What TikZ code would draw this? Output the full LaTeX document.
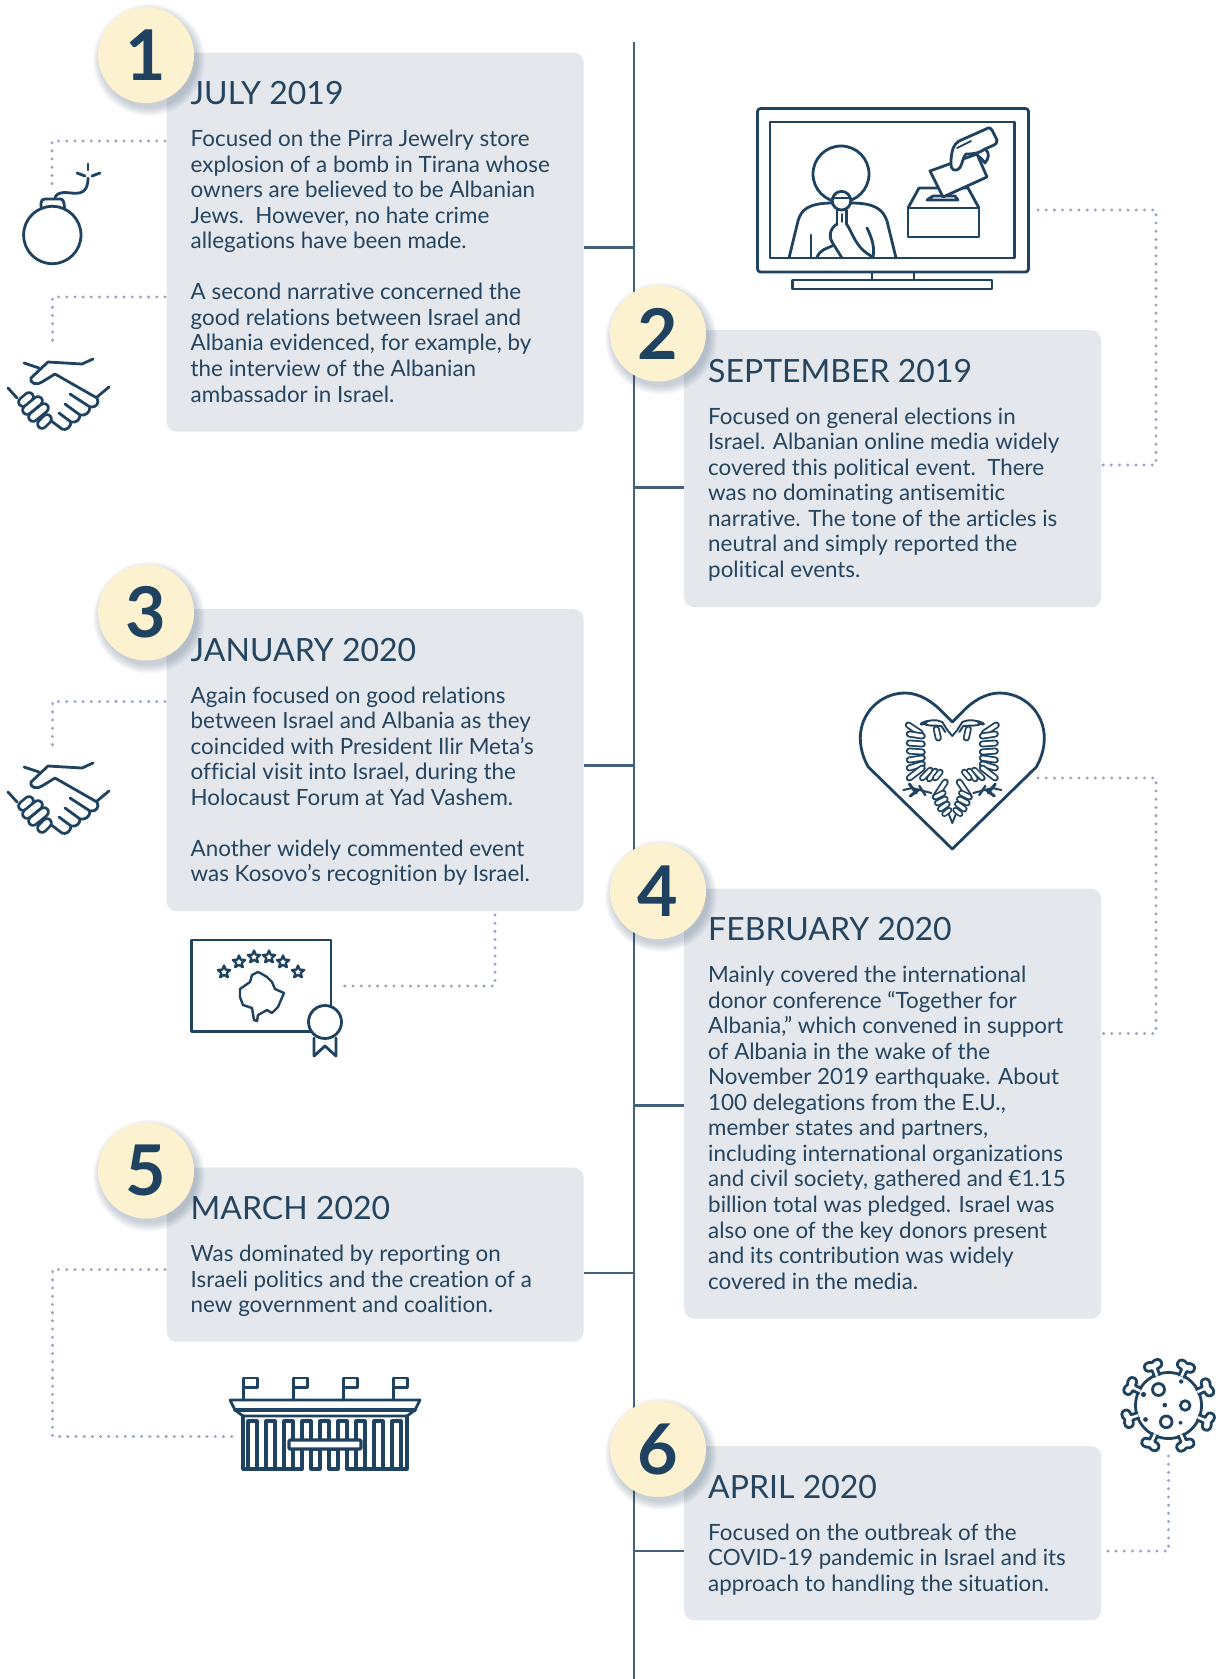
\documentclass[tikz,border=0pt]{standalone}
\usepackage{fontspec}
\setmainfont{Lato}[Ligatures=NoCommon]
\usetikzlibrary{calc}
\definecolor{ink}{HTML}{1F4260}
\definecolor{txt}{HTML}{24445F}
\definecolor{cardbg}{HTML}{E4E7EC}
\definecolor{badge}{HTML}{FDF2D0}
\definecolor{axis}{HTML}{45607A}
\definecolor{dots}{HTML}{98A6C4}
\tikzset{
  cardbox/.style={fill=cardbg,rounded corners=10pt,inner sep=0pt,anchor=north west},
  cardtitle/.style={anchor=base west,inner sep=0pt,text=txt,font=\fontsize{32}{32}\selectfont},
  cardbody/.style={anchor=north west,inner sep=0pt,text=txt,align=left,font=\fontsize{22.4}{25.55}\selectfont},
  badgenode/.style={circle,fill=badge,minimum size=96pt,inner sep=0pt,text=ink,font=\fontsize{70}{70}\selectfont\bfseries},
  axisline/.style={draw=axis,line width=2.5pt},
  dotline/.style={draw=dots,line width=3.3pt,line cap=round,dash pattern=on 0pt off 8.19pt},
  icon/.style={draw=ink,line width=2.8pt,line cap=round,line join=round},
  bld/.style={draw=ink,line width=3.2pt,line cap=round,line join=round},
  pics/kstar/.style={code={\draw[icon,line width=2.3pt] (-90:6.5)--(-54:2.9)--(-18:6.5)--(18:2.9)--(54:6.5)--(90:2.9)--(126:6.5)--(162:2.9)--(198:6.5)--(234:2.9)--cycle;}},
  pics/spike/.style={code={\draw[icon,fill=white] (-2.8,-32) -- (-2.8,-38.5) .. controls (-6,-38.5) and (-9,-39.5) .. (-9,-43) .. controls (-9,-47.5) and (-4,-48.5) .. (0,-46) .. controls (4,-48.5) and (9,-47.5) .. (9,-43) .. controls (9,-39.5) and (6,-38.5) .. (2.8,-38.5) -- (2.8,-32);}},
  pics/handshake/.style={code={
    \draw[icon] (24,363)--(39,368);
    \draw[icon] (93,359) -- (82,364) -- (48,362) -- (31,378) .. controls (29,383) and (37,386) .. (42,382) -- (55,374) -- (97,398) .. controls (100,403) and (96,408) .. (90,407) -- (70,394);
    \draw[icon] (97,397)--(109,387);
    \draw[icon] (90,407) .. controls (90,413) and (85,416) .. (80,415) -- (65,404);
    \draw[icon] (80,415) .. controls (80,420) and (76,423) .. (71,422) -- (59,413);
    \draw[icon] (71,422) .. controls (71,427) and (66,431) .. (62,429) -- (50,420);
    \draw[icon] (8,388)--(17,398);
    \mypill{11.5}{6}{(23,402)}{(29,397)}
    \mypill{11.5}{6}{(27,410)}{(38,401)}
    \mypill{11.5}{6}{(33,417)}{(44,408)}
    \mypill{11.5}{6}{(42,424)}{(47,419)}
  }},
}
\newcommand{\mypill}[4]{\draw[ink,line cap=round,line width=#1pt] #3--#4; \draw[white,line cap=round,line width=#2pt] #3--#4;}
\newcommand{\mycard}[7]{% name,x,top,w,h,title,body
  \node[cardbox,minimum width=#4pt,minimum height=#5pt] (#1) at (#2,#3) {};
  \node[cardtitle] (#1t) at ($(#2,#3)+(24,52)$) {#6};
  \node[cardbody] (#1b) at ($(#2,#3)+(24,77.3)$) {\rule{0pt}{16pt}#7};
}
\newcommand{\mybadge}[4]{% name,x,y,digit
  \foreach \r in {56,55,...,48}{
    \fill[ink,opacity=.028] ($(#2,#3)+(3,5)$) circle (\r pt);
  }
  \node[badgenode] (#1) at (#2,#3) {#4};
}
\newcommand{\halfeagle}{%
  \mypill{7}{3.4}{(44,725)}{(32,733)}
  \mypill{7}{3.4}{(43,734)}{(30,736)}
  \mypill{7}{3.4}{(43,743)}{(30,744)}
  \mypill{7}{3.4}{(43,751)}{(30,752)}
  \mypill{7}{3.4}{(43,760)}{(30,758)}
  \mypill{7}{3.4}{(43,768)}{(30,764)}
  \mypill{7}{3.4}{(43,778)}{(30,768)}
  \mypill{6.6}{3.2}{(30,778)}{(22,770)}
  \mypill{6.6}{3.2}{(23,779)}{(17,771)}
  \mypill{6.6}{3.2}{(17,778)}{(12,772)}
  \draw[icon,line width=1.9pt] (0,736) -- (5,730) -- (10,722) .. controls (16,719) and (24,720) .. (30,723) .. controls (25,727) and (17,725) .. (11,726) -- (7,732);
  \draw[ink,line width=3.4pt,line cap=round] (26,722) -- (31,724);
  \mypill{7}{3.4}{(16,729)}{(14,738)}
  \mypill{7}{3.4}{(7,782)}{(17,797)}
  \draw[icon,line width=1.9pt] (4,813) -- (0,823);
  \mypill{6.6}{3.2}{(17,797)}{(9,793)}
  \mypill{6.6}{3.2}{(15,803)}{(7,799)}
  \mypill{6.6}{3.2}{(12,809)}{(5,804)}
  \mypill{6}{2.8}{(8,814)}{(3,810)}
  \draw[ink,line width=2pt,line cap=round] (49,790) -- (40,788) -- (21,793);
  \draw[ink,line width=3pt,line cap=round] (43,784) -- (36,793);
  \draw[ink,line width=3pt,line cap=round] (42,796) -- (34,790);
  \draw[ink,line width=2.4pt,line cap=round] (33,786) -- (27,795);
}
\begin{document}
\begin{tikzpicture}[x=1pt,y=-1pt]
\useasboundingbox (0,0) rectangle (1219,1679);
\fill[white] (0,0) rectangle (1219,1679);

% ---- cards
\mycard{card1}{166.5}{52.5}{417}{379}{JULY 2019}{Focused on the Pirra Jewelry store\\explosion of a bomb in Tirana whose\\owners are believed to be Albanian\\Jews.\ \ However, no hate crime\\allegations have been made.\\[25.55pt]A second narrative concerned the\\good relations between Israel and\\Albania evidenced, for example, by\\the interview of the Albanian\\ambassador in Israel.}
\mycard{card2}{684}{330}{417}{277}{SEPTEMBER 2019}{Focused on general elections in\\Israel. Albanian online media widely\\covered this political event.\ \ There\\was no dominating antisemitic\\narrative. The tone of the articles is\\neutral and simply reported the\\political events.}
\mycard{card3}{166.5}{609}{417}{302}{JANUARY 2020}{Again focused on good relations\\between Israel and Albania as they\\coincided with President Ilir Meta’s\\official visit into Israel, during the\\Holocaust Forum at Yad Vashem.\\[25.55pt]Another widely commented event\\was Kosovo’s recognition by Israel.}
\mycard{card4}{684}{888.5}{417}{430}{FEBRUARY 2020}{Mainly covered the international\\donor conference “Together for\\Albania,” which convened in support\\of Albania in the wake of the\\November 2019 earthquake. About\\100 delegations from the E.U.,\\member states and partners,\\including international organizations\\and civil society, gathered and €1.15\\billion total was pledged. Israel was\\also one of the key donors present\\and its contribution was widely\\covered in the media.}
\mycard{card5}{166.5}{1167.5}{417}{174}{MARCH 2020}{Was dominated by reporting on\\Israeli politics and the creation of a\\new government and coalition.}
\mycard{card6}{684}{1446}{417}{174}{APRIL 2020}{Focused on the outbreak of the\\COVID-19 pandemic in Israel and its\\approach to handling the situation.}

% ---- timeline
\coordinate (axTop) at (633.8,42);
\coordinate (axBot) at (633.8,1679);
\draw[axisline] (axTop) -- (axBot);
\coordinate (a1) at (633.8,247.5);
\coordinate (a2) at (633.8,487.5);
\coordinate (a3) at (633.8,765.5);
\coordinate (a4) at (633.8,1105.5);
\coordinate (a5) at (633.8,1273);
\coordinate (a6) at (633.8,1551);
\draw[axisline] (a1) -- (a1 -| card1.east);
\draw[axisline] (a2) -- (a2 -| card2.west);
\draw[axisline] (a3) -- (a3 -| card3.east);
\draw[axisline] (a4) -- (a4 -| card4.west);
\draw[axisline] (a5) -- (a5 -| card5.east);
\draw[axisline] (a6) -- (a6 -| card6.west);

% ---- badges
\mybadge{n1}{146}{55}{1}
\mybadge{n2}{658}{333.5}{2}
\mybadge{n3}{146}{612.5}{3}
\mybadge{n4}{658}{891}{4}
\mybadge{n5}{146}{1170.5}{5}
\mybadge{n6}{658}{1449}{6}

% ---- dotted connectors
\coordinate (b1) at (165,141); \coordinate (b2) at (52,141); \coordinate (b3) at (52,184);
\draw[dotline] (b1)--(b2)--(b3);
\coordinate (h1) at (165,297); \coordinate (h2) at (52.5,297); \coordinate (h3) at (52.5,348);
\draw[dotline] (h1)--(h2)--(h3);
\coordinate (tv1) at (1038,210); \coordinate (tv2) at (1156,210); \coordinate (tv3) at (1156,465); \coordinate (tv4) at (1103,465);
\draw[dotline] (tv1)--(tv2)--(tv3)--(tv4);
\coordinate (ht1) at (1038,778); \coordinate (ht2) at (1156,778); \coordinate (ht3) at (1156,1033.5); \coordinate (ht4) at (1103,1033.5);
\draw[dotline] (ht1)--(ht2)--(ht3)--(ht4);
\coordinate (s1) at (165,701.5); \coordinate (s2) at (52.5,701.5); \coordinate (s3) at (52.5,752);
\draw[dotline] (s1)--(s2)--(s3);
\coordinate (k1) at (495,915); \coordinate (k2) at (495,986); \coordinate (k3) at (342,986);
\draw[dotline] (k1)--(k2)--(k3);
\coordinate (g1) at (165,1269.5); \coordinate (g2) at (52.5,1269.5); \coordinate (g3) at (52.5,1436.5); \coordinate (g4) at (233,1436.5);
\draw[dotline] (g1)--(g2)--(g3)--(g4);
\coordinate (v1) at (1168.5,1456); \coordinate (v2) at (1168.5,1551); \coordinate (v3) at (1105,1551);
\draw[dotline] (v1)--(v2)--(v3);

% ---- bomb
\draw[icon] (52.3,235) circle (28.7pt);
\draw[icon] (41,207) -- (41,203) .. controls (41,200) and (43,199) .. (45,199) -- (60,199) .. controls (63,199) and (64,201) .. (64.5,208);
\draw[icon] (55,197) .. controls (58,192) and (64,192) .. (71,193) .. controls (80,194) and (88,193) .. (88,178);
\draw[icon] (88,164)--(88,170);
\draw[icon] (77,173)--(85,176);
\draw[icon] (100,173)--(92,176);

% ---- handshakes
\pic at (0,0) {handshake};
\pic at (0,404) {handshake};

% ---- TV
\draw[icon,rounded corners=3pt] (757.5,108.5) rectangle (1028.5,272);
\draw[icon] (770,122) rectangle (1014.5,258);
\draw[icon] (872,272) rectangle (914,280);
\draw[icon] (792.5,280) rectangle (992,289);
\draw[icon] (841,174) circle (28pt);
\draw[icon] (789,258) -- (798,221) .. controls (801,210) and (808,203) .. (833,203);
\draw[icon] (851,203) .. controls (876,203) and (883,210) .. (887,221) -- (896,258);
\draw[icon,fill=white] (841.5,200.7) circle (9.3pt);
\draw[icon] (833,198) -- (850,198);
\draw[icon] (837,210) -- (837,224);
\draw[icon] (846.5,210) -- (846.5,224);
\draw[icon,line width=1.8pt] (841.7,214) -- (841.7,222);
\draw[icon] (837,224) .. controls (829,229) and (829,238) .. (832,242) -- (842,258);
\draw[icon] (846.5,224) .. controls (853,233) and (855,248) .. (873,257);
\draw[icon] (867,228) .. controls (872,238) and (875,248) .. (873,257);
\draw[icon] (811,235) -- (811,258);
\draw[icon] (817,257) .. controls (821,249) and (826,249) .. (832,246);
\draw[icon] (908,208) rectangle (979,237);
\draw[icon] (908,208) -- (919,188) -- (968,188) -- (979,208);
\draw[icon] (927,200) -- (933,196) -- (955,196) -- (958,200) -- cycle;
\draw[icon,fill=white] (930,171) -- (977,154) -- (987,177) -- (943,197) -- cycle;
\draw[icon,fill=white] (951,160) .. controls (952,150) and (953,145) .. (959,141) -- (986,129) .. controls (989,127) and (991,128) .. (992,130) -- (997,140) .. controls (997,143) and (996,144) .. (994,145) -- (985,149) .. controls (979,153) and (975,154) .. (966,154) .. controls (962,158) and (962,169) .. (957,170) .. controls (950,171) and (951,165) .. (951,160);
\draw[icon] (978,156) .. controls (981,158) and (983,160) .. (985,163) .. controls (989,158) and (990,153) .. (985,149);
\draw[icon,line width=1.8pt] (957,148) -- (971,141);

% ---- heart
\begin{scope}[shift={(-1.7,0)}]
\draw[icon] (954,722) -- (945,713) .. controls (935,702) and (921,693) .. (907,693) .. controls (882,693) and (862,713) .. (862,738) .. controls (862,750) and (866,760) .. (870,767) -- (954,849) -- (1038,767) .. controls (1042,760) and (1046,750) .. (1046,738) .. controls (1046,713) and (1026,693) .. (1001,693) .. controls (987,693) and (973,702) .. (963,713) -- cycle;
\end{scope}
\begin{scope}[shift={(952.3,0)}]
  \halfeagle
\end{scope}
\begin{scope}[shift={(952.3,0)},xscale=-1]
  \halfeagle
\end{scope}

% ---- certificate
\draw[icon] (191.5,940) rectangle (331,1031.5);
\foreach \p in {(224,972),(239,962),(254,957),(269,957),(283,962),(298,972)}{\pic at \p {kstar};}
\draw[icon,line width=2.4pt] (258,972)--(252,975)--(250,982)--(240,989)--(240,997)--(243,1005)--(252,1008)--(254,1020)--(257,1021)--(258,1015)--(267,1010)--(272,1013)--(278,1007)--(284,993)--(275,989)--(272,982)--(267,977)--(262,974)--cycle;
\draw[icon,fill=white] (325,1022) circle (16.5pt);
\draw[icon] (314,1038)--(314,1056)--(325,1046)--(336,1056)--(336,1038);

% ---- building
\foreach \fx in {243.3,293.3,343.3,393.3}{
  \draw[icon] (\fx,1400) -- (\fx,1378) -- (\fx+14.5,1378) -- (\fx+14.5,1387.5) -- (\fx,1387.5);
}
\draw[icon] (230,1400) -- (420,1400) -- (415,1410) -- (235,1410) -- cycle;
\draw[bld] (235,1410) -- (415,1410);
\draw[icon] (235,1410) -- (243,1416) -- (407,1416) -- (415,1410);
\draw[bld] (243,1416) -- (243,1469) -- (302,1469);
\draw[bld] (407,1416) -- (407,1469) -- (347,1469);
\foreach \cx in {248,266,284,356,374,392}{
  \draw[bld] (\cx,1469) -- (\cx,1421) -- (\cx+9,1421) -- (\cx+9,1469);
}
\foreach \cx in {302,320,338}{
  \draw[bld] (\cx,1440) -- (\cx,1421) -- (\cx+9,1421) -- (\cx+9,1440);
}
\draw[bld] (302,1449) -- (302,1469);
\draw[bld] (347,1449) -- (347,1469);
\draw[bld] (311,1449) rectangle (320,1469);
\draw[bld] (329,1449) rectangle (338,1469);
\draw[bld,fill=white,rounded corners=1pt] (289,1440) rectangle (361,1449);

% ---- virus
\draw[icon] (1168.5,1405.5) circle (33pt);
\foreach \ang in {-21,24,65,112,157,205,252,297}{
  \pic[shift={(1168.5,1405.5)},rotate=-\ang] {spike};
}
\draw[icon] (1158.5,1389.5) circle (6pt);
\draw[icon] (1185.2,1405.5) circle (4.8pt);
\draw[icon] (1166.2,1421.8) circle (5.8pt);
\draw[icon,line width=1.4pt] (1180.5,1422.8) circle (1.4pt);
\foreach \p/\q in {(1181.2,1381.5)/2.2,(1143.5,1394.5)/2.6,(1164.8,1405.1)/2.3,(1145.5,1419.5)/2.4}{
  \fill[ink] \p circle (\q pt);
}
\end{tikzpicture}
\end{document}
